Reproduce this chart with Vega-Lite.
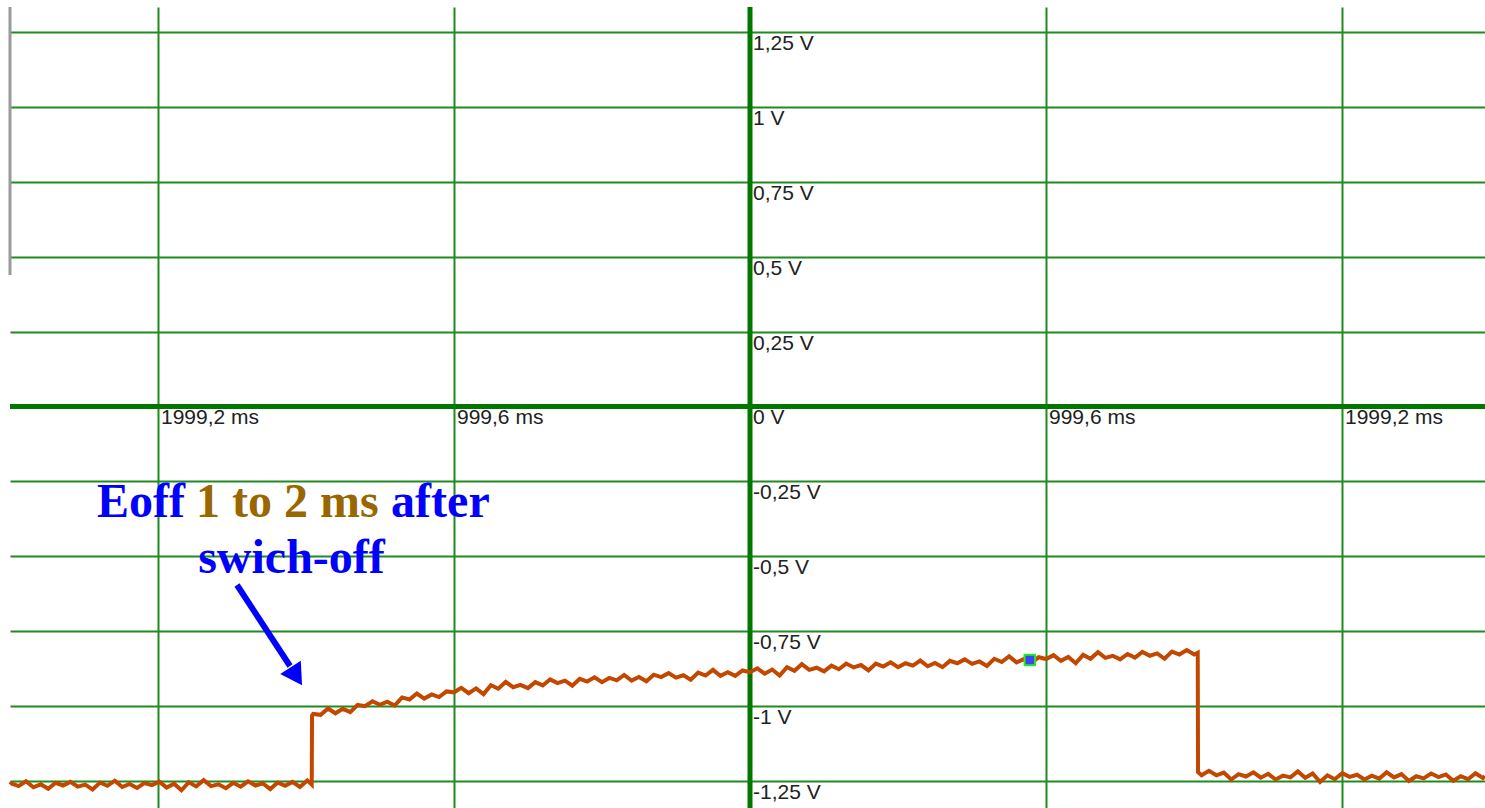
{
  "$schema": "https://vega.github.io/schema/vega-lite/v6.json",
  "width": 1475,
  "height": 801,
  "autosize": "none",
  "padding": {"left": 10, "top": 7, "right": 0, "bottom": 0},
  "background": "white",
  "view": {"stroke": null},
  "datasets": {
    "trace": [
      {"t": -2499, "v": -1.262}, {"t": -2495, "v": -1.258}, {"t": -2470, "v": -1.267}, {"t": -2445, "v": -1.251}, {"t": -2420, "v": -1.271}, {"t": -2395, "v": -1.261}, {"t": -2370, "v": -1.276}, {"t": -2345, "v": -1.256}, {"t": -2320, "v": -1.265}, {"t": -2295, "v": -1.253}, {"t": -2270, "v": -1.269}, {"t": -2245, "v": -1.262}, {"t": -2220, "v": -1.278}, {"t": -2195, "v": -1.255}, {"t": -2170, "v": -1.266}, {"t": -2145, "v": -1.249}, {"t": -2120, "v": -1.270}, {"t": -2095, "v": -1.260}, {"t": -2070, "v": -1.273}, {"t": -2045, "v": -1.257}, {"t": -2020, "v": -1.264}, {"t": -1995, "v": -1.252}, {"t": -1970, "v": -1.272}, {"t": -1945, "v": -1.259}, {"t": -1920, "v": -1.281}, {"t": -1895, "v": -1.254}, {"t": -1870, "v": -1.268}, {"t": -1845, "v": -1.247}, {"t": -1820, "v": -1.267}, {"t": -1795, "v": -1.261}, {"t": -1770, "v": -1.274}, {"t": -1745, "v": -1.256}, {"t": -1720, "v": -1.269}, {"t": -1695, "v": -1.251}, {"t": -1670, "v": -1.265}, {"t": -1645, "v": -1.258}, {"t": -1620, "v": -1.277}, {"t": -1595, "v": -1.255}, {"t": -1570, "v": -1.266}, {"t": -1545, "v": -1.253}, {"t": -1520, "v": -1.270}, {"t": -1495, "v": -1.248}, {"t": -1480, "v": -1.262},
      {"t": -1479, "v": -1.032}, {"t": -1475, "v": -1.026}, {"t": -1450, "v": -1.029}, {"t": -1425, "v": -1.008}, {"t": -1400, "v": -1.024}, {"t": -1375, "v": -1.009}, {"t": -1350, "v": -1.020}, {"t": -1325, "v": -0.996}, {"t": -1300, "v": -1.000}, {"t": -1275, "v": -0.984}, {"t": -1250, "v": -0.996}, {"t": -1225, "v": -0.985}, {"t": -1200, "v": -0.998}, {"t": -1175, "v": -0.971}, {"t": -1150, "v": -0.978}, {"t": -1125, "v": -0.958}, {"t": -1100, "v": -0.975}, {"t": -1075, "v": -0.961}, {"t": -1050, "v": -0.970}, {"t": -1025, "v": -0.951}, {"t": -1000, "v": -0.954}, {"t": -975, "v": -0.939}, {"t": -950, "v": -0.957}, {"t": -925, "v": -0.941}, {"t": -900, "v": -0.960}, {"t": -875, "v": -0.930}, {"t": -850, "v": -0.942}, {"t": -825, "v": -0.919}, {"t": -800, "v": -0.937}, {"t": -775, "v": -0.929}, {"t": -750, "v": -0.940}, {"t": -725, "v": -0.920}, {"t": -700, "v": -0.931}, {"t": -675, "v": -0.911}, {"t": -650, "v": -0.923}, {"t": -625, "v": -0.915}, {"t": -600, "v": -0.932}, {"t": -575, "v": -0.909}, {"t": -550, "v": -0.918}, {"t": -525, "v": -0.904}, {"t": -500, "v": -0.920}, {"t": -475, "v": -0.906}, {"t": -450, "v": -0.914}, {"t": -425, "v": -0.896}, {"t": -400, "v": -0.915}, {"t": -375, "v": -0.903}, {"t": -350, "v": -0.917}, {"t": -325, "v": -0.895}, {"t": -300, "v": -0.903}, {"t": -275, "v": -0.890}, {"t": -250, "v": -0.905}, {"t": -225, "v": -0.897}, {"t": -200, "v": -0.912}, {"t": -175, "v": -0.888}, {"t": -150, "v": -0.898}, {"t": -125, "v": -0.879}, {"t": -100, "v": -0.899}, {"t": -75, "v": -0.887}, {"t": -50, "v": -0.899}, {"t": -25, "v": -0.881}, {"t": 0, "v": -0.887}, {"t": 25, "v": -0.874}, {"t": 50, "v": -0.892}, {"t": 75, "v": -0.878}, {"t": 100, "v": -0.898}, {"t": 125, "v": -0.870}, {"t": 150, "v": -0.882}, {"t": 175, "v": -0.860}, {"t": 200, "v": -0.879}, {"t": 225, "v": -0.872}, {"t": 250, "v": -0.884}, {"t": 275, "v": -0.865}, {"t": 300, "v": -0.877}, {"t": 325, "v": -0.858}, {"t": 350, "v": -0.871}, {"t": 375, "v": -0.863}, {"t": 400, "v": -0.881}, {"t": 425, "v": -0.858}, {"t": 450, "v": -0.868}, {"t": 475, "v": -0.854}, {"t": 500, "v": -0.870}, {"t": 525, "v": -0.857}, {"t": 550, "v": -0.865}, {"t": 575, "v": -0.848}, {"t": 600, "v": -0.867}, {"t": 625, "v": -0.856}, {"t": 650, "v": -0.870}, {"t": 675, "v": -0.849}, {"t": 700, "v": -0.857}, {"t": 725, "v": -0.844}, {"t": 750, "v": -0.859}, {"t": 775, "v": -0.851}, {"t": 800, "v": -0.866}, {"t": 825, "v": -0.842}, {"t": 850, "v": -0.853}, {"t": 875, "v": -0.834}, {"t": 900, "v": -0.854}, {"t": 925, "v": -0.843}, {"t": 950, "v": -0.855}, {"t": 975, "v": -0.837}, {"t": 1000, "v": -0.843}, {"t": 1025, "v": -0.830}, {"t": 1050, "v": -0.849}, {"t": 1075, "v": -0.836}, {"t": 1100, "v": -0.857}, {"t": 1125, "v": -0.829}, {"t": 1150, "v": -0.842}, {"t": 1175, "v": -0.820}, {"t": 1200, "v": -0.839}, {"t": 1225, "v": -0.832}, {"t": 1250, "v": -0.844}, {"t": 1275, "v": -0.826}, {"t": 1300, "v": -0.838}, {"t": 1325, "v": -0.819}, {"t": 1350, "v": -0.832}, {"t": 1375, "v": -0.824}, {"t": 1400, "v": -0.842}, {"t": 1425, "v": -0.818}, {"t": 1450, "v": -0.828}, {"t": 1475, "v": -0.813}, {"t": 1500, "v": -0.828}, {"t": 1512, "v": -0.822},
      {"t": 1513, "v": -1.220}, {"t": 1525, "v": -1.231}, {"t": 1550, "v": -1.216}, {"t": 1575, "v": -1.231}, {"t": 1600, "v": -1.222}, {"t": 1625, "v": -1.245}, {"t": 1650, "v": -1.227}, {"t": 1675, "v": -1.235}, {"t": 1700, "v": -1.221}, {"t": 1725, "v": -1.239}, {"t": 1750, "v": -1.226}, {"t": 1775, "v": -1.245}, {"t": 1800, "v": -1.232}, {"t": 1825, "v": -1.238}, {"t": 1850, "v": -1.218}, {"t": 1875, "v": -1.239}, {"t": 1900, "v": -1.225}, {"t": 1925, "v": -1.253}, {"t": 1950, "v": -1.231}, {"t": 1975, "v": -1.244}, {"t": 2000, "v": -1.224}, {"t": 2025, "v": -1.236}, {"t": 2050, "v": -1.229}, {"t": 2075, "v": -1.245}, {"t": 2100, "v": -1.232}, {"t": 2125, "v": -1.242}, {"t": 2150, "v": -1.221}, {"t": 2175, "v": -1.238}, {"t": 2200, "v": -1.227}, {"t": 2225, "v": -1.250}, {"t": 2250, "v": -1.234}, {"t": 2275, "v": -1.241}, {"t": 2300, "v": -1.225}, {"t": 2325, "v": -1.237}, {"t": 2350, "v": -1.228}, {"t": 2375, "v": -1.249}, {"t": 2400, "v": -1.234}, {"t": 2425, "v": -1.244}, {"t": 2450, "v": -1.224}, {"t": 2475, "v": -1.240}, {"t": 2482, "v": -1.234}
    ],
    "vlabels": [
      {"t": 0, "v": 1.25, "label": "1,25 V"}, {"t": 0, "v": 1, "label": "1 V"}, {"t": 0, "v": 0.75, "label": "0,75 V"}, {"t": 0, "v": 0.5, "label": "0,5 V"}, {"t": 0, "v": 0.25, "label": "0,25 V"}, {"t": 0, "v": 0, "label": "0 V"}, {"t": 0, "v": -0.25, "label": "-0,25 V"}, {"t": 0, "v": -0.5, "label": "-0,5 V"}, {"t": 0, "v": -0.75, "label": "-0,75 V"}, {"t": 0, "v": -1, "label": "-1 V"}, {"t": 0, "v": -1.25, "label": "-1,25 V"},
      {"t": -1999.2, "v": 0, "label": "1999,2 ms"}, {"t": -999.6, "v": 0, "label": "999,6 ms"}, {"t": 999.6, "v": 0, "label": "999,6 ms"}, {"t": 1999.2, "v": 0, "label": "1999,2 ms"}
    ],
    "annot": [
      {"t": -2205.2, "v": -0.369, "label": "Eoff", "part": "blue"},
      {"t": -1871.0, "v": -0.369, "label": "1 to 2 ms", "part": "brown"},
      {"t": -1212.0, "v": -0.369, "label": "after", "part": "blue"}
    ]
  },
  "layer": [
    {
      "data": {"values": [{"t": 0, "v": 0}]},
      "mark": {"type": "rule", "color": "#007800", "strokeWidth": 5},
      "encoding": {
        "x": {"field": "t", "type": "quantitative", "scale": {"domain": [-2499, 2482.1], "nice": false, "zero": false},
          "axis": {"values": [-1999.2, -999.6, 999.6, 1999.2], "grid": true, "gridColor": "#1e8c1e", "gridWidth": 2, "gridOpacity": 1, "labels": false, "ticks": false, "domain": false, "title": null}},
        "y": {"value": 0},
        "y2": {"value": 801}
      }
    },
    {
      "data": {"values": [{"t": 0, "v": 0}]},
      "mark": {"type": "rule", "color": "#007800", "strokeWidth": 5},
      "encoding": {
        "y": {"field": "v", "type": "quantitative", "scale": {"domain": [-1.3401, 1.3334], "nice": false, "zero": false},
          "axis": {"values": [1.25, 1, 0.75, 0.5, 0.25, -0.25, -0.5, -0.75, -1, -1.25], "grid": true, "gridColor": "#1e8c1e", "gridWidth": 2, "gridOpacity": 1, "labels": false, "ticks": false, "domain": false, "title": null}},
        "x": {"value": 0},
        "x2": {"value": 1475}
      }
    },
    {
      "data": {"values": [{"t": -2499, "v1": 1.3334, "v2": 0.439}]},
      "mark": {"type": "rule", "color": "#9a9a9a", "strokeWidth": 3},
      "encoding": {
        "x": {"field": "t", "type": "quantitative"},
        "y": {"field": "v1", "type": "quantitative"},
        "y2": {"field": "v2"}
      }
    },
    {
      "data": {"name": "trace"},
      "mark": {"type": "line", "color": "#c24800", "strokeWidth": 4, "interpolate": "linear", "strokeJoin": "miter"},
      "encoding": {
        "x": {"field": "t", "type": "quantitative"},
        "y": {"field": "v", "type": "quantitative"}
      }
    },
    {
      "data": {"values": [{"t": 945, "v": -0.846}]},
      "mark": {"type": "point", "shape": "square", "filled": true, "size": 110, "color": "#4040ff", "stroke": "#22ee22", "strokeWidth": 2, "opacity": 1},
      "encoding": {
        "x": {"field": "t", "type": "quantitative"},
        "y": {"field": "v", "type": "quantitative"}
      }
    },
    {
      "data": {"name": "vlabels"},
      "mark": {"type": "text", "align": "left", "baseline": "middle", "dx": 3, "dy": 12, "font": "Liberation Sans", "fontSize": 21, "color": "#222222"},
      "encoding": {
        "x": {"field": "t", "type": "quantitative"},
        "y": {"field": "v", "type": "quantitative"},
        "text": {"field": "label"}
      }
    },
    {
      "data": {"name": "annot"},
      "mark": {"type": "text", "align": "left", "baseline": "alphabetic", "font": "Liberation Serif", "fontWeight": "bold", "fontSize": 48},
      "encoding": {
        "x": {"field": "t", "type": "quantitative"},
        "y": {"field": "v", "type": "quantitative"},
        "text": {"field": "label"},
        "color": {"field": "part", "type": "nominal", "scale": {"domain": ["blue", "brown"], "range": ["#0000ff", "#996600"]}, "legend": null}
      }
    },
    {
      "data": {"values": [{"t": -1548.4, "v": -0.5557, "label": "swich-off"}]},
      "mark": {"type": "text", "align": "center", "baseline": "alphabetic", "font": "Liberation Serif", "fontWeight": "bold", "fontSize": 48, "color": "#0000ff"},
      "encoding": {
        "x": {"field": "t", "type": "quantitative"},
        "y": {"field": "v", "type": "quantitative"},
        "text": {"field": "label"}
      }
    },
    {
      "data": {"values": [{"t1": -1732.4, "v1": -0.5958, "t2": -1553.4, "v2": -0.8662}]},
      "mark": {"type": "rule", "color": "#0000ff", "strokeWidth": 6},
      "encoding": {
        "x": {"field": "t1", "type": "quantitative"},
        "y": {"field": "v1", "type": "quantitative"},
        "x2": {"field": "t2"},
        "y2": {"field": "v2"}
      }
    },
    {
      "data": {"values": [{"t": -1532.2, "v": -0.9005}]},
      "mark": {"type": "point", "shape": "triangle-up", "filled": true, "size": 600, "angle": 147, "color": "#0000ff", "opacity": 1},
      "encoding": {
        "x": {"field": "t", "type": "quantitative"},
        "y": {"field": "v", "type": "quantitative"}
      }
    }
  ]
}
